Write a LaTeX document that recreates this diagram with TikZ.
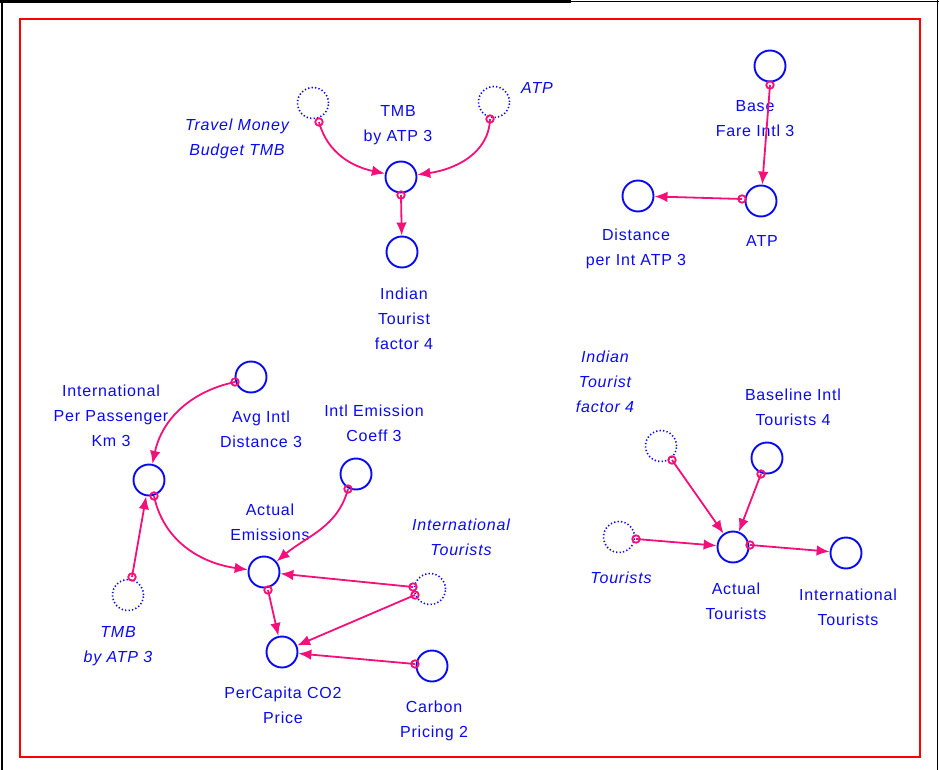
\documentclass[tikz,border=0pt]{standalone}
\usepackage{fontspec}
\setmainfont{Liberation Sans}[LetterSpace=5]
\usetikzlibrary{arrows.meta}
\definecolor{varblue}{RGB}{10,10,240}
\definecolor{linkpink}{RGB}{245,15,120}
\definecolor{framered}{RGB}{255,0,0}

\begin{document}
\begin{tikzpicture}[x=1pt,y=-1pt,
  var/.style={circle,draw=varblue,line width=1.9pt,minimum size=31pt,inner sep=0pt},
  ghostvar/.style={var,line width=1.6pt,dash pattern=on 1.3pt off 2.2pt},
  lbl/.style={text=varblue,align=center,inner sep=0pt,font=\fontsize{16}{25}\selectfont},
  ilbl/.style={lbl,font=\fontsize{16}{25}\selectfont\itshape},
  tail/.style={circle,draw=linkpink,line width=1.8pt,minimum size=7.5pt,inner sep=0pt},
  link/.style={draw=linkpink,line width=1.8pt,-{Latex[length=13pt,width=10.5pt]}},
]
\path[use as bounding box] (0,0) rectangle (939,770);

% page frame
\fill[black] (0,0) rectangle (571,3);
\draw[black,line width=1.5pt] (571,1.5) -- (939,1.5);
\draw[black,line width=2pt] (1.7,0) -- (1.7,770);
\draw[black,line width=1.5pt] (937.5,0) -- (937.5,770);
\draw[framered,line width=2.6pt] (20,19) rectangle (920,757);

% ---------- travel money budget group ----------
\node[ghostvar] (gtmb) at (313,103) {};
\node[ghostvar] (gatp) at (494,102) {};
\node[var] (tmb) at (401,177) {};
\node[var] (itf) at (402,252) {};
\node[ilbl] (lgtmb) at (237,138.5) {Travel Money\\Budget TMB};
\node[ilbl] (lgatp) at (537,88) {ATP};
\node[lbl] (ltmb) at (398,125.5) {TMB\\by ATP 3};
\node[lbl] (litf) at (404,319) {Indian\\Tourist\\factor 4};
\node[tail] (t1) at (319,122) {};
\node[tail] (t2) at (490,119) {};
\node[tail] (t3) at (401,195) {};
\draw[link] (t1.center) to[out=-75,in=168] (tmb);
\draw[link] (t2.center) to[out=-92,in=8] (tmb);
\draw[link] (t3.center) -- (itf);

% ---------- fare group ----------
\node[var] (bfi) at (770,66) {};
\node[var] (atp) at (761,201) {};
\node[var] (dpa) at (638,196) {};
\node[lbl] (lbfi) at (755,118.5) {Base\\Fare Intl 3};
\node[lbl] (latp) at (762,241) {ATP};
\node[lbl] (ldpa) at (636,248.5) {Distance\\per Int ATP 3};
\node[tail] (t4) at (770,85) {};
\node[tail] (t5) at (742,199) {};
\draw[link] (t4.center) -- (atp);
\draw[link] (t5.center) -- (dpa);

% ---------- emissions group ----------
\node[var] (ippk) at (149,480) {};
\node[var] (avg) at (251,377) {};
\node[var] (iec) at (356,474) {};
\node[var] (ae) at (264,572) {};
\node[ghostvar] (git) at (430,589) {};
\node[ghostvar] (gtmb2) at (128,595) {};
\node[var] (pcp) at (282,652) {};
\node[var] (cp) at (432,666) {};
\node[lbl] (lippk) at (111,415.5) {International\\Per Passenger\\Km 3};
\node[lbl] (lavg) at (261,429) {Avg Intl\\Distance 3};
\node[lbl] (liec) at (374,423) {Intl Emission\\Coeff 3};
\node[lbl] (lae) at (270,522) {Actual\\Emissions};
\node[ilbl] (lgit) at (461,537.5) {International\\Tourists};
\node[ilbl] (lgtmb2) at (118,646) {TMB\\by ATP 3};
\node[lbl] (lpcp) at (283,705.5) {PerCapita CO2\\Price};
\node[lbl] (lcp) at (434,720.5) {Carbon\\Pricing 2};
\node[tail] (t6) at (235,382) {};
\node[tail] (t7) at (132,577) {};
\node[tail] (t8) at (154,496) {};
\node[tail] (t9) at (348,489) {};
\node[tail] (t10) at (413,587) {};
\node[tail] (t11) at (415,595) {};
\node[tail] (t12) at (268,590) {};
\node[tail] (t13) at (415,664) {};
\draw[link] (t6.center) to[out=192,in=78] (ippk);
\draw[link] (t7.center) -- (ippk);
\draw[link] (t8.center) to[out=-78,in=172] (ae);
\draw[link] (t9.center) to[out=-105,in=40] (ae);
\draw[link] (t10.center) -- (ae);
\draw[link] (t11.center) -- (pcp);
\draw[link] (t12.center) -- (pcp);
\draw[link] (t13.center) -- (pcp);

% ---------- tourists group ----------
\node[ghostvar] (gitf) at (661,446) {};
\node[var] (bit) at (767,458) {};
\node[ghostvar] (gtour) at (619,537) {};
\node[var] (at) at (733,547) {};
\node[var] (it) at (846,553) {};
\node[ilbl] (lgitf) at (605,382) {Indian\\Tourist\\factor 4};
\node[lbl] (lbit) at (793,407) {Baseline Intl\\Tourists 4};
\node[ilbl] (lgtour) at (621,578) {Tourists};
\node[lbl] (lat) at (736,601) {Actual\\Tourists};
\node[lbl] (lit) at (848,607) {International\\Tourists};
\node[tail] (t14) at (672,460) {};
\node[tail] (t15) at (761,474) {};
\node[tail] (t16) at (636,539) {};
\node[tail] (t17) at (750,545) {};
\draw[link] (t14.center) -- (at);
\draw[link] (t15.center) -- (at);
\draw[link] (t16.center) -- (at);
\draw[link] (t17.center) -- (it);
\end{tikzpicture}
\end{document}
